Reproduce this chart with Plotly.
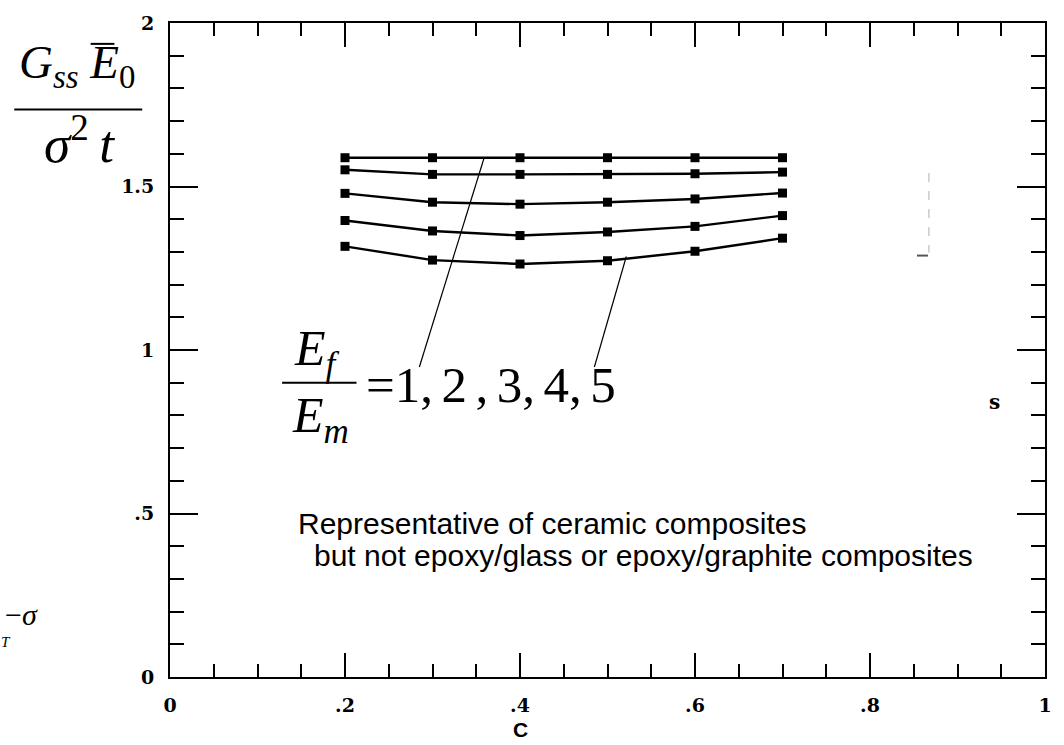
import plotly.graph_objects as go

# Fibre volume fraction C and normalised steady-state energy release rate
c_values = [0.2, 0.3, 0.4, 0.5, 0.6, 0.7]
ratio_labels = ["1", "2", "3", "4", "5"]
g_ratio_1 = [1.588, 1.588, 1.588, 1.588, 1.588, 1.588]
g_ratio_2 = [1.551, 1.537, 1.537, 1.537, 1.539, 1.544]
g_ratio_3 = [1.479, 1.452, 1.446, 1.452, 1.462, 1.480]
g_ratio_4 = [1.396, 1.364, 1.350, 1.361, 1.378, 1.411]
g_ratio_5 = [1.317, 1.275, 1.263, 1.273, 1.302, 1.342]
series = [g_ratio_1, g_ratio_2, g_ratio_3, g_ratio_4, g_ratio_5]

x_tickvals = [0, 0.2, 0.4, 0.6, 0.8, 1.0]
x_ticktext = ["0", ".2", ".4", ".6", ".8", "1"]
y_tickvals = [0, 0.5, 1.0, 1.5, 2.0]
y_ticktext = ["0", ".5", "1", "1.5", "2"]

# plot-area geometry in pixels (used to place free-floating labels)
W, H = 1064, 745
L, R, T, B = 170, 12, 19, 68
PW, PH = W - L - R, H - T - B


def px(x):
    return (x - L) / PW


def py(y):
    return (H - B - y) / PH


fig = go.Figure()
for vals, lab in zip(series, ratio_labels):
    fig.add_trace(go.Scatter(
        x=c_values, y=vals, mode="lines+markers", name=lab,
        line=dict(color="black", width=2.4),
        marker=dict(symbol="square", size=9, color="black"),
        showlegend=False,
    ))

tick_font = dict(family="DejaVu Serif", size=19, color="black", weight="bold")
serif = "Liberation Serif"
sp = "\u2006"  # narrow space used in the ratio list

annotations = [
    # y-axis quantity as a fraction
    dict(x=px(76), y=py(62), text="<i>G</i><sub><i>ss</i></sub> <i>E</i><sub>0</sub>",
         font=dict(family=serif, size=47, color="black")),
    dict(x=px(79), y=py(137), text="<i>σ</i><sup>2</sup>\u2009<i>t</i>",
         font=dict(family=serif, size=53, color="black")),
    # modulus ratio label
    dict(x=px(318), y=py(350), text="<i>E</i><sub><i>f</i></sub>",
         font=dict(family=serif, size=50, color="black")),
    dict(x=px(322), y=py(417), text="<i>E</i><sub><i>m</i></sub>",
         font=dict(family=serif, size=50, color="black")),
    dict(x=px(366), y=py(383), xanchor="left",
         text=f"=1,{sp}2{sp},{sp}3,{sp}4,{sp}5",
         font=dict(family=serif, size=51, color="black")),
    # remarks
    dict(x=px(297), y=py(523), xanchor="left",
         text="Representative of ceramic composites",
         font=dict(family="Liberation Sans", size=30, color="black")),
    dict(x=px(313), y=py(555), xanchor="left",
         text="but not epoxy/glass or epoxy/graphite composites",
         font=dict(family="Liberation Sans", size=30, color="black")),
    # x-axis title
    dict(x=0.4, xref="x", y=py(730), text="C",
         font=dict(family="Liberation Sans", size=21, color="black", weight="bold")),
    # stray fragments of neighbouring text
    dict(x=px(1001), y=py(400), text="s",
         font=dict(family="DejaVu Serif", size=20, color="black", weight="bold")),
    dict(x=px(2), y=py(614), xanchor="left", text="−<i>σ</i>",
         font=dict(family=serif, size=30, color="black")),
    dict(x=px(-2), y=py(642), xanchor="left", text="<i>T</i>",
         font=dict(family=serif, size=15, color="black")),
]
for a in annotations:
    a.setdefault("xref", "paper")
    a.setdefault("yref", "paper")
    a.setdefault("showarrow", False)
    a.setdefault("xanchor", "center")
    a.setdefault("yanchor", "middle")

shapes = [
    # fraction bars and overbar
    dict(type="line", xref="paper", yref="paper", x0=px(13), x1=px(142), y0=py(106), y1=py(106),
         line=dict(color="black", width=2)),
    dict(type="line", xref="paper", yref="paper", x0=px(90), x1=px(114), y0=py(40), y1=py(40),
         line=dict(color="black", width=2)),
    dict(type="line", xref="paper", yref="paper", x0=px(283), x1=px(358), y0=py(381), y1=py(381),
         line=dict(color="black", width=2)),
    # leader lines from the ratio label to the first and last curves
    dict(type="line", xref="x", yref="y", x0=0.285, y0=0.948, x1=0.359, y1=1.588,
         line=dict(color="black", width=1.2)),
    dict(type="line", xref="x", yref="y", x0=0.485, y0=0.948, x1=0.5215, y1=1.286,
         line=dict(color="black", width=1.2)),
    # faint stray marks
    dict(type="line", xref="paper", yref="paper", x0=px(935), x1=px(935), y0=py(170), y1=py(250),
         line=dict(color="#b0b0b0", width=1, dash="dash")),
    dict(type="line", xref="paper", yref="paper", x0=px(923), x1=px(934), y0=py(253), y1=py(253),
         line=dict(color="#555555", width=2)),
]

fig.update_layout(
    width=W, height=H,
    margin=dict(l=L, r=R, t=T, b=B),
    paper_bgcolor="white", plot_bgcolor="white",
    annotations=annotations, shapes=shapes,
    xaxis=dict(
        range=[0, 1], tickvals=x_tickvals, ticktext=x_ticktext,
        ticks="inside", ticklen=24, tickwidth=2, tickcolor="black",
        minor=dict(dtick=0.05, ticks="inside", ticklen=13, tickwidth=2, tickcolor="black"),
        showline=True, linewidth=2, linecolor="black", mirror="allticks",
        showgrid=False, zeroline=False, tickfont=tick_font, ticklabelstandoff=10,
    ),
    yaxis=dict(
        range=[0, 2], tickvals=y_tickvals, ticktext=y_ticktext,
        ticks="inside", ticklen=28, tickwidth=2, tickcolor="black",
        minor=dict(dtick=0.1, ticks="inside", ticklen=14, tickwidth=2, tickcolor="black"),
        showline=True, linewidth=2, linecolor="black", mirror="allticks",
        showgrid=False, zeroline=False, tickfont=tick_font, ticklabelstandoff=10,
    ),
)

fig.write_html("out.html")
